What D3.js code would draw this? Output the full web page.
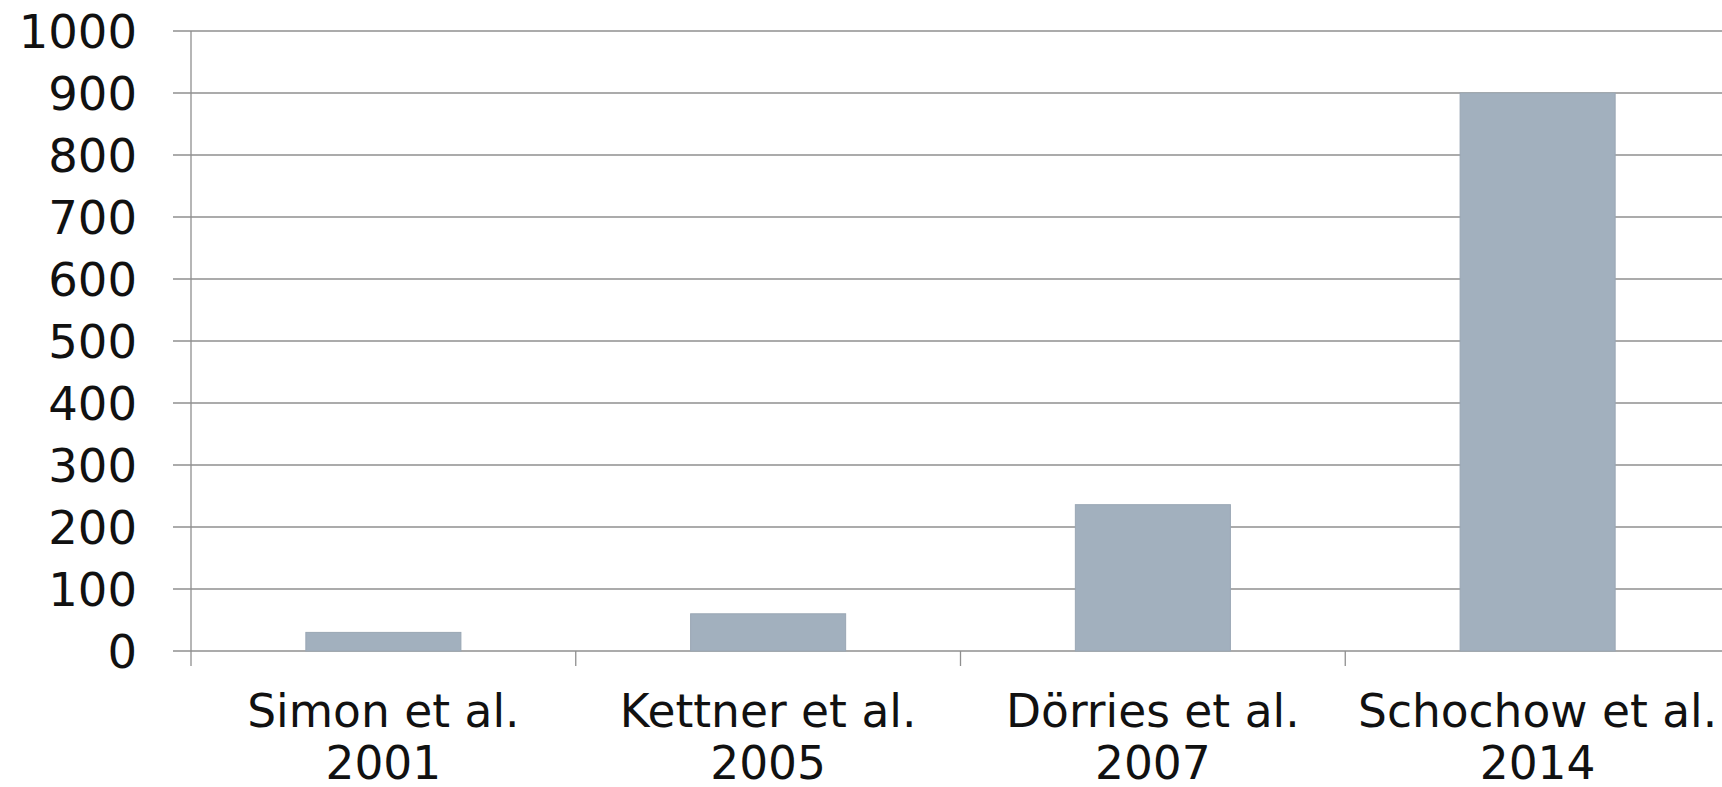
<!DOCTYPE html>
<html>
<head>
<meta charset="utf-8">
<script src="https://cdn.jsdelivr.net/npm/d3@7"></script>
<style>
	html, body { margin: 0; padding: 0; background: #fff; }
	svg { display: block; font-family: "DejaVu Sans", Verdana, sans-serif; }
</style>
</head>
<body>
<div id="chart"></div>
<script>
let studies = ["Simon et al.", "Kettner et al.", "Dörries et al.", "Schochow et al."];
let years = ["2001", "2005", "2007", "2014"];
let counts = [30, 60, 236, 900];
let yTicks = [0, 100, 200, 300, 400, 500, 600, 700, 800, 900, 1000];

let WIDTH = 1722;
let HEIGHT = 787;
let GRID = "#8f8f8f";
let BAR = "#a2b0be";

let margin = { left: 191, right: 1730, top: 31, bottom: 651 };

let svg = d3.select("#chart").append("svg").
	attr("viewBox", `0, 0, ${WIDTH}, ${HEIGHT}`).
	attr("width", WIDTH).
	attr("height", HEIGHT);

let x = d3.scaleBand().
	domain(studies).
	range([margin.left, margin.right]).
	padding(0);

let y = d3.scaleLinear().
	domain([0, 1000]).
	range([margin.bottom, margin.top]);

// gridlines + y ticks
svg.append("g").
	attr("stroke", GRID).
	attr("stroke-width", 1.3).
	selectAll("line").
	data(yTicks).
	join("line").
	attr("x1", margin.left - 18).
	attr("x2", WIDTH).
	attr("y1", d => y(d)).
	attr("y2", d => y(d));

svg.append("g").
	attr("font-size", 46.5).
	attr("fill", "#111").
	attr("text-anchor", "end").
	selectAll("text").
	data(yTicks).
	join("text").
	attr("x", margin.left - 54).
	attr("y", d => y(d)).
	attr("dy", "0.36em").
	text(d => d);

// bars
let barWidth = x.bandwidth() * 0.403;
svg.append("g").
	selectAll("rect").
	data(counts).
	join("rect").
	attr("x", (d, i) => x(studies[i]) + (x.bandwidth() - barWidth) / 2).
	attr("y", d => y(d)).
	attr("width", barWidth).
	attr("height", d => y(0) - y(d)).
	attr("fill", BAR).
	attr("stroke", "#9aa7b4").
	attr("stroke-width", 1);

// axes
svg.append("line").
	attr("x1", margin.left).
	attr("x2", margin.left).
	attr("y1", margin.top).
	attr("y2", margin.bottom + 15).
	attr("stroke", GRID).
	attr("stroke-width", 1.3);

svg.append("g").
	attr("stroke", GRID).
	attr("stroke-width", 1.3).
	selectAll("line").
	data(studies.slice(1)).
	join("line").
	attr("x1", d => x(d)).
	attr("x2", d => x(d)).
	attr("y1", margin.bottom).
	attr("y2", margin.bottom + 15);

// category labels
let labels = svg.append("g").
	attr("font-size", 45.5).
	attr("fill", "#111").
	attr("text-anchor", "middle").
	selectAll("text").
	data(studies).
	join("text");

labels.append("tspan").
	attr("x", d => x(d) + x.bandwidth() / 2).
	attr("y", 727).
	text(d => d);

labels.append("tspan").
	attr("x", d => x(d) + x.bandwidth() / 2).
	attr("y", 779).
	text((d, i) => years[i]);
</script>
</body>
</html>
